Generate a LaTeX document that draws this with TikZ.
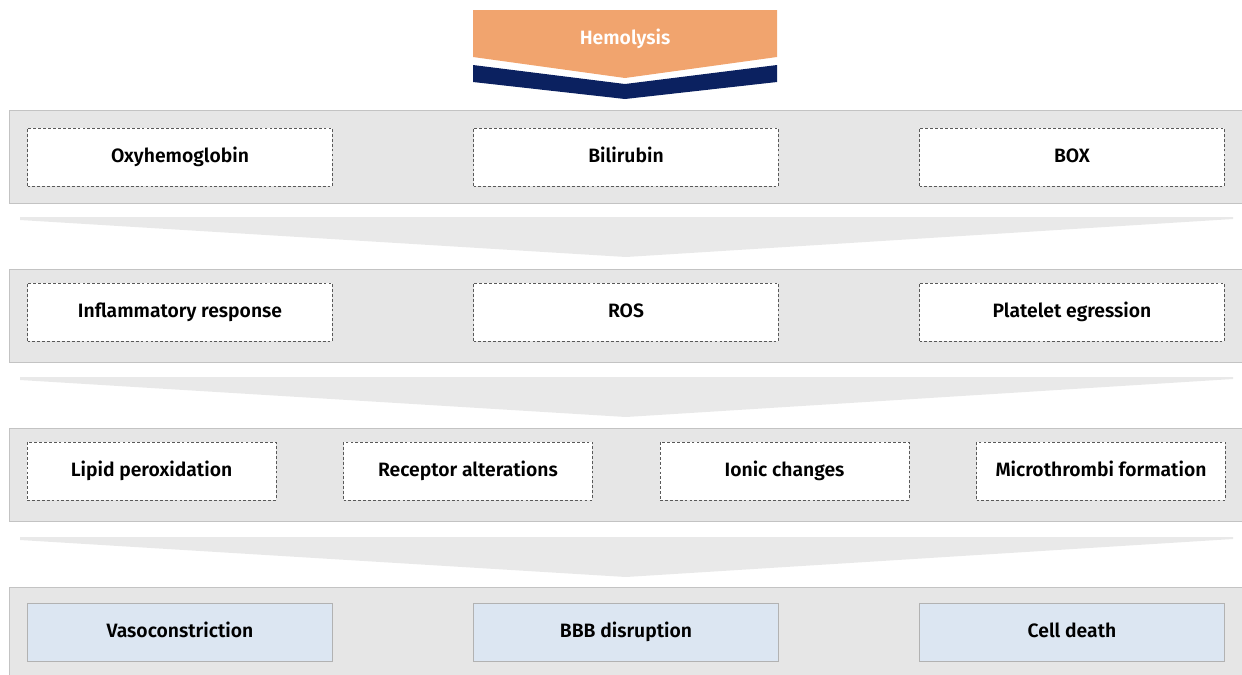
\documentclass[tikz,border=0pt]{standalone}
\usepackage{fontspec}
\setmainfont{Fira Sans}[BoldFont={Fira Sans SemiBold}]
\usetikzlibrary{calc,fit,positioning}
\definecolor{hemoorange}{HTML}{F1A46E}
\definecolor{hemonavy}{HTML}{0B2160}
\definecolor{panelgray}{HTML}{E6E6E6}
\definecolor{panelline}{HTML}{C3C3C3}
\definecolor{chevgray}{HTML}{E9E9E9}
\definecolor{outblue}{HTML}{DCE6F2}
\tikzstyle{panel} = [draw=panelline,fill=panelgray,line width=0.6pt,inner sep=0.35cm]
\tikzstyle{item} = [draw=black!65,dash pattern=on 1.6pt off 1.2pt,fill=white,minimum width=6.1cm,minimum height=1.16cm,text height=8pt,text depth=1.5pt,font=\bfseries\fontsize{11}{13}\selectfont]
\tikzstyle{smallitem} = [item,minimum width=4.98cm]
\tikzstyle{outcome} = [draw=black!30,fill=outblue,minimum width=6.1cm,minimum height=1.16cm,text height=8pt,text depth=1.5pt,font=\bfseries\fontsize{11}{13}\selectfont]
\tikzstyle{chevron} = [fill=chevgray]
\pgfdeclarelayer{background}
\pgfsetlayers{background,main}

\begin{document}
\begin{tikzpicture}[x=0.02cm,y=-0.02cm]
\useasboundingbox (0,0) rectangle (1242,674);
%%% Hemolysis banner
\fill[hemoorange] (473,10) -- (777,10) -- (777,57) -- (625,78) -- (473,57) -- cycle;
\fill[hemonavy] (473,65) -- (625,84) -- (777,65) -- (777,82) -- (625,99) -- (473,82) -- cycle;
\node[text=white,font=\bfseries\fontsize{11}{13}\selectfont] at (625,39) (hemo) {Hemolysis};
%%% Row 1
\foreach \x/\t in {0/Oxyhemoglobin,1/Bilirubin,2/BOX} {
    \node[item] at (180+446*\x,157) (box1\x) {\t};
}
%%% Row 2
\foreach \x/\t in {0/Inflammatory response,1/ROS,2/Platelet egression} {
    \node[item] at (180+446*\x,312) (box2\x) {\t};
}
%%% Row 3
\foreach \x/\t in {0/Lipid peroxidation,1/Receptor alterations,2/Ionic changes,3/Microthrombi formation} {
    \node[smallitem] at (151.5+316.5*\x,471) (box3\x) {\t};
}
%%% Row 4
\foreach \x/\t in {0/Vasoconstriction,1/BBB disruption,2/Cell death} {
    \node[outcome] at (180+446*\x,632) (box4\x) {\t};
}
\begin{pgfonlayer}{background}
% Draw panels
\node[fit=(box10) (box12),panel] (panel1){};
\node[fit=(box20) (box22),panel,yshift=-0.08cm] (panel2){};
\node[fit=(box30) (box33),panel,yshift=-0.08cm] (panel3){};
\node[fit=(box40) (box42),panel,yshift=-0.05cm] (panel4){};
% Draw chevrons
\foreach \y in {217,377,537} {
    \fill[chevron] (20,\y) -- (1233,\y) -- (1233,\y+2) -- (626,\y+40) -- (20,\y+3) -- cycle;
}
\end{pgfonlayer}
\end{tikzpicture}
\end{document}
